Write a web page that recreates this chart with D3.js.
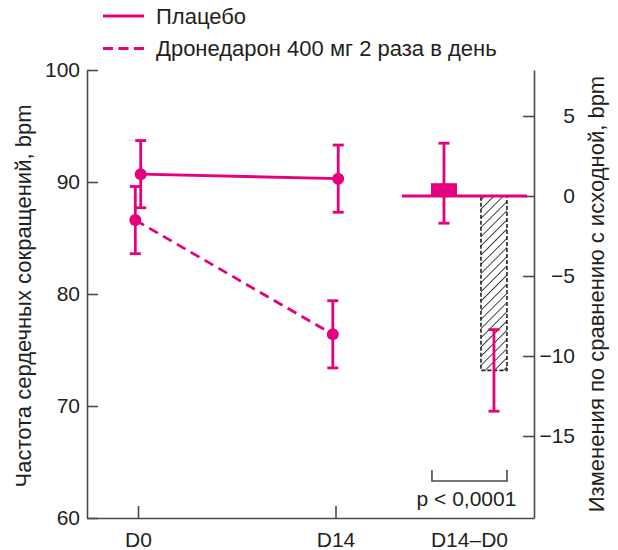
<!DOCTYPE html>
<html>
<head>
<meta charset="utf-8">
<script src="https://cdn.jsdelivr.net/npm/d3@7"></script>
<style>
  body { margin: 0; background: #fff; }
  svg { font-family: "Liberation Sans", Arial, sans-serif; }
</style>
</head>
<body>
<svg id="chart" width="618" height="550"></svg>
<script>
// data
const days = ["D0", "D14"];
const dayValues = [0, 14];
const placeboHR = [90.7, 90.3];
const placeboErr = [3.0, 3.0];
const droneHR = [86.6, 76.4];
const droneErr = [3.0, 3.0];

const changeGroups = ["Плацебо", "Дронедарон"];
const changeValues = [0.8, -10.9];
const changeErr = [2.5, 2.55];

const leftTicks = [60, 70, 80, 90, 100];
const rightTicks = [5, 0, -5, -10, -15];
const legendLabels = ["Плацебо", "Дронедарон 400 мг 2 раза в день"];
const pText = "p < 0,0001";

const magenta = "#e6007e";
const axisCol = "#4a4a4a";
const textCol = "#231f20";
const lw = 2.8;

const svg = d3.select("#chart");

// scales
const x = d3.scaleLinear().domain([-3.615, 28.07]).range([87, 534]);
const yL = d3.scaleLinear().domain([60, 100]).range([518, 70]);
const yR = d3.scaleLinear().domain([-20.125, 7.875]).range([518, 70]);
const diffDay = 23.46; // where the D14-D0 group sits

const xBand = d3.scaleBand()
  .domain(changeGroups)
  .range([x(diffDay) - 38, x(diffDay) + 38])
  .paddingInner(0.48);

// hatch pattern
const defs = svg.append("defs");
defs.append("pattern")
  .attr("id", "hatch")
  .attr("patternUnits", "userSpaceOnUse")
  .attr("width", 6.5).attr("height", 6.5)
  .attr("patternTransform", "rotate(45)")
  .append("line")
  .attr("x1", 0).attr("y1", 0).attr("x2", 0).attr("y2", 6.5)
  .attr("stroke", "#222").attr("stroke-width", 1.7);

// axes
function styleAxis(g) {
  g.selectAll("path, line").attr("stroke", axisCol).attr("stroke-width", 1.6);
  g.selectAll("text").attr("fill", textCol).style("font-size", "21px")
    .style("font-family", "'Liberation Sans', Arial, sans-serif");
}

svg.append("g")
  .attr("transform", "translate(87,0)")
  .call(d3.axisLeft(yL).tickValues(leftTicks).tickSizeInner(-11).tickSizeOuter(0).tickPadding(7))
  .call(styleAxis);

const gR = svg.append("g")
  .attr("transform", "translate(534,0)")
  .call(d3.axisRight(yR).tickValues(rightTicks).tickSizeInner(-11).tickSizeOuter(0))
  .call(styleAxis);
gR.selectAll("text").attr("x", 41).attr("text-anchor", "end");

const xLabels = days.concat(["D14\u2013D0"]);
const gB = svg.append("g")
  .attr("transform", "translate(0,518)")
  .call(d3.axisBottom(x)
    .tickValues(dayValues.concat([diffDay]))
    .tickFormat((d, i) => xLabels[i])
    .tickSizeInner(-12).tickSizeOuter(0).tickPadding(14))
  .call(styleAxis);
gB.selectAll(".tick").filter((d, i) => i === 2).select("line").remove();

// axis titles
svg.append("text")
  .attr("transform", "translate(31,296) rotate(-90)")
  .attr("text-anchor", "middle")
  .attr("fill", textCol)
  .style("font-size", "22px")
  .text("Частота сердечных сокращений, bpm");

svg.append("text")
  .attr("transform", "translate(604,294) rotate(-90)")
  .attr("text-anchor", "middle")
  .attr("fill", textCol)
  .style("font-size", "22px")
  .text("Изменения по сравнению с исходной, bpm");

// legend
const legend = svg.append("g");
legendLabels.forEach(function(lbl, i) {
  const ly = 16 + i * 32.5;
  legend.append("line")
    .attr("x1", 103).attr("x2", 144).attr("y1", ly).attr("y2", ly)
    .attr("stroke", magenta).attr("stroke-width", lw)
    .attr("stroke-dasharray", i === 1 ? "10,5.5" : null);
  legend.append("text")
    .attr("x", 156).attr("y", ly).attr("dy", "0.35em")
    .attr("fill", textCol).style("font-size", "22px")
    .text(lbl);
});

// left panel: lines with error bars
const series = [
  { vals: placeboHR, err: placeboErr, off: 2.7, dash: null },
  { vals: droneHR, err: droneErr, off: -2.7, dash: "10,6" }
];

series.forEach(function(s) {
  const pts = dayValues.map((d, i) => ({ x: x(d) + s.off, v: s.vals[i], e: s.err[i] }));

  svg.append("path")
    .datum(pts)
    .attr("fill", "none")
    .attr("stroke", magenta)
    .attr("stroke-width", lw)
    .attr("stroke-dasharray", s.dash)
    .attr("d", d3.line().x(d => d.x).y(d => yL(d.v)));

  const eb = svg.append("g").selectAll("g").data(pts).enter().append("g");
  eb.append("line")
    .attr("x1", d => d.x).attr("x2", d => d.x)
    .attr("y1", d => yL(d.v + d.e)).attr("y2", d => yL(d.v - d.e))
    .attr("stroke", magenta).attr("stroke-width", lw);
  eb.selectAll(".cap").data(d => [[d.x, d.v + d.e], [d.x, d.v - d.e]]).enter()
    .append("line")
    .attr("x1", d => d[0] - 5.5).attr("x2", d => d[0] + 5.5)
    .attr("y1", d => yL(d[1])).attr("y2", d => yL(d[1]))
    .attr("stroke", magenta).attr("stroke-width", lw);
  eb.append("circle")
    .attr("cx", d => d.x).attr("cy", d => yL(d.v)).attr("r", 6)
    .attr("fill", magenta);
});

// right panel: change from baseline
const chg = changeGroups.map((g, i) => ({ g: g, v: changeValues[i], e: changeErr[i] }));

// hatched bar (dronedarone)
svg.append("rect")
  .attr("x", xBand(changeGroups[1]))
  .attr("width", xBand.bandwidth())
  .attr("y", yR(0))
  .attr("height", yR(changeValues[1]) - yR(0))
  .attr("fill", "url(#hatch)")
  .attr("stroke", "#222")
  .attr("stroke-width", 1.6)
  .attr("stroke-dasharray", "4,2");

// zero line
svg.append("line")
  .attr("x1", x(diffDay) - 67).attr("x2", x(diffDay) + 58)
  .attr("y1", yR(0)).attr("y2", yR(0))
  .attr("stroke", magenta).attr("stroke-width", lw);

// placebo bar
svg.append("rect")
  .attr("x", xBand(changeGroups[0]))
  .attr("width", xBand.bandwidth())
  .attr("y", yR(changeValues[0]))
  .attr("height", yR(0) - yR(changeValues[0]))
  .attr("fill", magenta);

const ceb = svg.append("g").selectAll("g").data(chg).enter().append("g");
ceb.append("line")
  .attr("x1", d => xBand(d.g) + xBand.bandwidth() / 2)
  .attr("x2", d => xBand(d.g) + xBand.bandwidth() / 2)
  .attr("y1", d => yR(d.v + d.e)).attr("y2", d => yR(d.v - d.e))
  .attr("stroke", magenta).attr("stroke-width", lw);
ceb.selectAll(".cap")
  .data(d => [[xBand(d.g) + xBand.bandwidth() / 2, d.v + d.e], [xBand(d.g) + xBand.bandwidth() / 2, d.v - d.e]])
  .enter().append("line")
  .attr("x1", d => d[0] - 5.5).attr("x2", d => d[0] + 5.5)
  .attr("y1", d => yR(d[1])).attr("y2", d => yR(d[1]))
  .attr("stroke", magenta).attr("stroke-width", lw);

// significance bracket
const bx1 = x(diffDay) - 37, bx2 = x(diffDay) + 38;
svg.append("path")
  .attr("d", "M" + bx1 + ",470V481H" + bx2 + "V470")
  .attr("fill", "none")
  .attr("stroke", axisCol)
  .attr("stroke-width", 1.6);

svg.append("text")
  .attr("x", x(diffDay) - 2.5)
  .attr("y", 506)
  .attr("text-anchor", "middle")
  .attr("fill", textCol)
  .style("font-size", "21px")
  .text(pText);
</script>
</body>
</html>
